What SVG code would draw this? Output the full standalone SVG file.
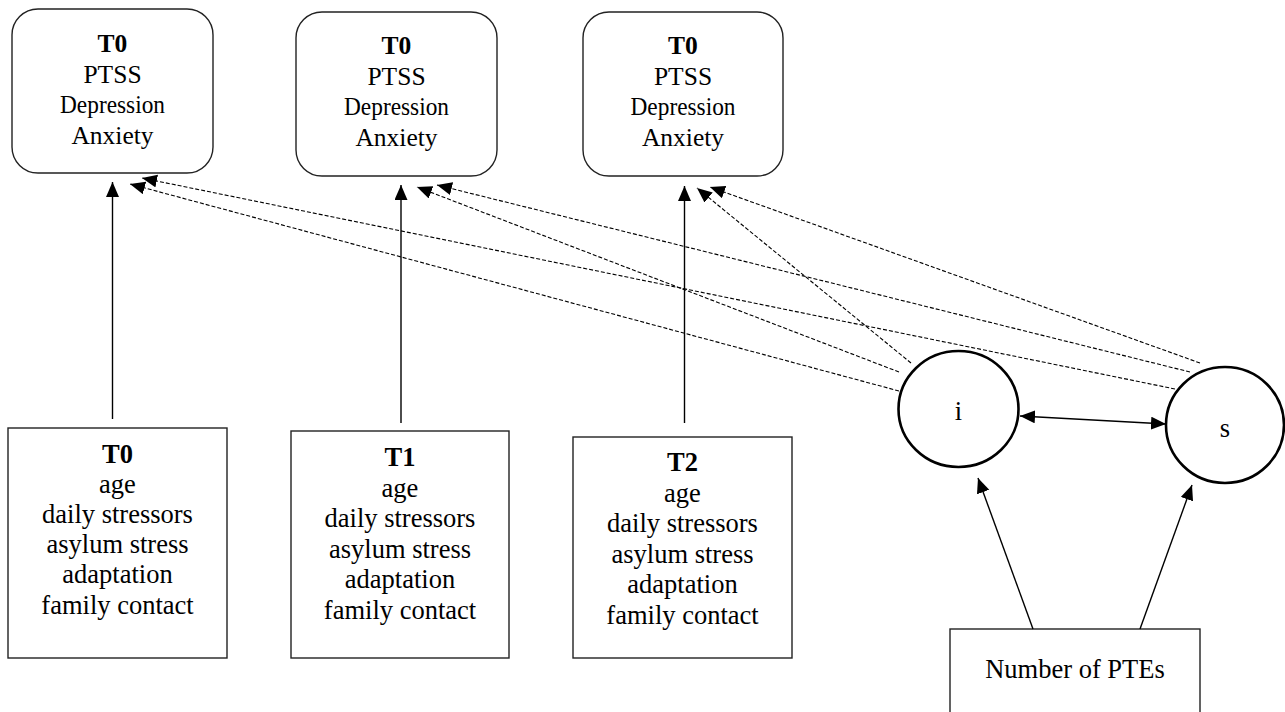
<svg xmlns="http://www.w3.org/2000/svg" width="1285" height="712" viewBox="0 0 1285 712">
<style>
  .box { fill: #fff; stroke: #222; stroke-width: 1.4; }
  .circ { fill: #fff; stroke: #000; stroke-width: 2.6; }
  text { font-family: "Liberation Serif", "Times New Roman", serif; fill: #000; text-anchor: middle; }
  .top { font-size: 25.5px; }
  .bot { font-size: 26.5px; }
  .b { font-weight: bold; }
  .solid { stroke: #000; stroke-width: 1.4; fill: none; }
  .dash { stroke: #000; stroke-width: 1.1; fill: none; stroke-dasharray: 4 2; }
</style>
<defs>
  <marker id="ah" markerUnits="userSpaceOnUse" markerWidth="16" markerHeight="14" refX="15" refY="6.5" orient="auto">
    <path d="M0,0 L15,6.5 L0,13 Z" fill="#000"/>
  </marker>
  <marker id="ahs" markerUnits="userSpaceOnUse" markerWidth="16" markerHeight="14" refX="15" refY="6.5" orient="auto-start-reverse">
    <path d="M0,0 L15,6.5 L0,13 Z" fill="#000"/>
  </marker>
</defs>

<g id="outcome-1">
  <rect class="box" x="12" y="9" width="201" height="164" rx="26"/>
  <text class="top b" x="112.5" y="52">T0</text>
  <text class="top" x="112.5" y="83">PTSS</text>
  <text class="top" x="112.5" y="113" textLength="105" lengthAdjust="spacingAndGlyphs">Depression</text>
  <text class="top" x="112.5" y="144">Anxiety</text>
</g>
<g id="outcome-2">
  <rect class="box" x="296" y="12" width="201" height="164" rx="26"/>
  <text class="top b" x="396.5" y="54">T0</text>
  <text class="top" x="396.5" y="85">PTSS</text>
  <text class="top" x="396.5" y="115" textLength="105" lengthAdjust="spacingAndGlyphs">Depression</text>
  <text class="top" x="396.5" y="146">Anxiety</text>
</g>
<g id="outcome-3">
  <rect class="box" x="583" y="12" width="200" height="164" rx="26"/>
  <text class="top b" x="683" y="54">T0</text>
  <text class="top" x="683" y="85">PTSS</text>
  <text class="top" x="683" y="115" textLength="105" lengthAdjust="spacingAndGlyphs">Depression</text>
  <text class="top" x="683" y="146">Anxiety</text>
</g>

<g id="predictor-T0">
  <rect class="box" x="8" y="428" width="219" height="230"/>
  <text class="bot b" x="117.5" y="463">T0</text>
  <text class="bot" x="117.5" y="493">age</text>
  <text class="bot" x="117.5" y="523">daily stressors</text>
  <text class="bot" x="117.5" y="553">asylum stress</text>
  <text class="bot" x="117.5" y="583">adaptation</text>
  <text class="bot" x="117.5" y="614">family contact</text>
</g>
<g id="predictor-T1">
  <rect class="box" x="291" y="431" width="218" height="227"/>
  <text class="bot b" x="400" y="466">T1</text>
  <text class="bot" x="400" y="496.5">age</text>
  <text class="bot" x="400" y="527">daily stressors</text>
  <text class="bot" x="400" y="557.5">asylum stress</text>
  <text class="bot" x="400" y="588">adaptation</text>
  <text class="bot" x="400" y="618.5">family contact</text>
</g>
<g id="predictor-T2">
  <rect class="box" x="573" y="437" width="219" height="221"/>
  <text class="bot b" x="682.5" y="471">T2</text>
  <text class="bot" x="682.5" y="501.5">age</text>
  <text class="bot" x="682.5" y="532">daily stressors</text>
  <text class="bot" x="682.5" y="562.5">asylum stress</text>
  <text class="bot" x="682.5" y="593">adaptation</text>
  <text class="bot" x="682.5" y="623.5">family contact</text>
</g>

<g id="latent-i">
  <ellipse class="circ" cx="958.5" cy="409" rx="60" ry="58"/>
  <text class="bot" x="958.5" y="420">i</text>
</g>
<g id="latent-s">
  <ellipse class="circ" cx="1225" cy="425" rx="59" ry="58"/>
  <text class="bot" x="1225" y="437">s</text>
</g>

<g id="ptes">
  <rect class="box" x="950" y="629" width="250" height="90"/>
  <text class="bot" x="1075" y="678">Number of PTEs</text>
</g>

<g id="connectors">
  <line class="solid" x1="112.5" y1="419" x2="112.5" y2="182" marker-end="url(#ah)"/>
  <line class="solid" x1="401" y1="423" x2="401" y2="185" marker-end="url(#ah)"/>
  <line class="solid" x1="684.5" y1="423" x2="684.5" y2="186" marker-end="url(#ah)"/>

  <line class="dash" x1="899" y1="391" x2="130" y2="184" marker-end="url(#ah)"/>
  <line class="dash" x1="1175" y1="389" x2="142" y2="178" marker-end="url(#ah)"/>
  <line class="dash" x1="899" y1="372" x2="417" y2="187" marker-end="url(#ah)"/>
  <line class="dash" x1="1190" y1="372" x2="437" y2="185" marker-end="url(#ah)"/>
  <line class="dash" x1="911" y1="363" x2="697" y2="188" marker-end="url(#ah)"/>
  <line class="dash" x1="1200" y1="363" x2="710" y2="187" marker-end="url(#ah)"/>

  <line class="solid" x1="1020" y1="416" x2="1166" y2="424" marker-start="url(#ahs)" marker-end="url(#ah)"/>
  <line class="solid" x1="1033" y1="629" x2="978" y2="478" marker-end="url(#ah)"/>
  <line class="solid" x1="1140" y1="629" x2="1192" y2="485" marker-end="url(#ah)"/>
</g>
</svg>
